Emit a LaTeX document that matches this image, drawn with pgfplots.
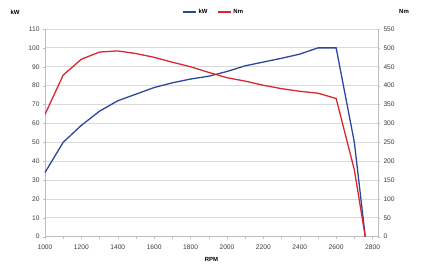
\documentclass[border=0pt]{standalone}
\usepackage{pgfplots}
\pgfplotsset{compat=1.18}
\usepackage{fontspec}
\setmainfont{Liberation Sans}
\definecolor{kwblue}{RGB}{42,72,155}
\definecolor{nmred}{RGB}{214,40,52}
\definecolor{gridgray}{RGB}{218,218,218}
\definecolor{axgray}{RGB}{190,190,190}
\definecolor{txtgray}{RGB}{60,60,60}
\begin{document}
\begin{tikzpicture}
\useasboundingbox (-45bp,-32.3bp) rectangle (377bp,236.7bp);
\pgfplotsset{
  every axis/.append style={
    scale only axis, width=333bp, height=207.7bp,
    xmin=1000, xmax=2830,
    tick label style={font=\fontsize{6.7}{8}\selectfont, text=txtgray},
    /pgf/number format/1000 sep={},
    /pgf/number format/assume math mode=true,
    axis line style={axgray, line width=0.8pt},
    major tick style={axgray},
    minor tick style={axgray},
  }
}
\begin{axis}[
  axis x line*=bottom, axis y line*=left,
  ymin=0, ymax=110, ytick={0,10,...,110},
  xtick={1000,1200,...,2800},
  minor x tick num=1,
  tick align=outside,
  major tick length=2bp, minor tick length=2bp,
  xticklabel style={yshift=-3bp},
  ymajorgrids, major grid style={gridgray, line width=0.8pt},
  xlabel={\bfseries RPM}, xlabel style={font=\fontsize{6}{7}\selectfont, text=black, yshift=-1bp},
  legend style={draw=none, fill=none, font=\fontsize{6}{7}\selectfont\bfseries, legend columns=2,
    at={(rel axis cs:0.507,1)}, anchor=center, yshift=17bp,
    /tikz/every even column/.append style={column sep=8bp}},
  legend image code/.code={\draw[#1, line width=1.2pt] (0cm,0cm) -- (0.45cm,0cm);},
  clip=false,
]
\addlegendimage{kwblue}\addlegendentry{kW}
\addlegendimage{nmred}\addlegendentry{Nm}
\addplot[kwblue, line width=1.3pt] coordinates {
(1000,34)(1100,50)(1200,59)(1300,66.5)(1400,72)(1500,75.5)(1600,79)(1700,81.5)(1800,83.5)(1900,85)(2000,87.5)(2100,90.5)(2200,92.5)(2300,94.5)(2400,96.7)(2500,100)(2600,100)(2700,50)(2760,0)};
\node[font=\fontsize{6}{7}\selectfont\bfseries, anchor=center] at (rel axis cs:0,1) [xshift=-30bp, yshift=17bp] {kW};
\node[font=\fontsize{6}{7}\selectfont\bfseries, anchor=center] at (rel axis cs:1,1) [xshift=26bp, yshift=18bp] {Nm};
\end{axis}
\begin{axis}[
  axis x line=none, axis y line*=right,
  ymin=0, ymax=550, ytick={0,50,...,550},
  tick align=outside, major tick length=2bp,
]
\addplot[nmred, line width=1.3pt] coordinates {
(1000,324)(1100,428)(1200,470)(1300,489)(1400,492)(1500,485)(1600,475)(1700,462)(1800,450)(1900,435)(2000,421)(2100,412)(2200,401)(2300,392)(2400,385)(2500,380)(2600,366)(2700,177)(2760,0)};
\end{axis}
\end{tikzpicture}
\end{document}
